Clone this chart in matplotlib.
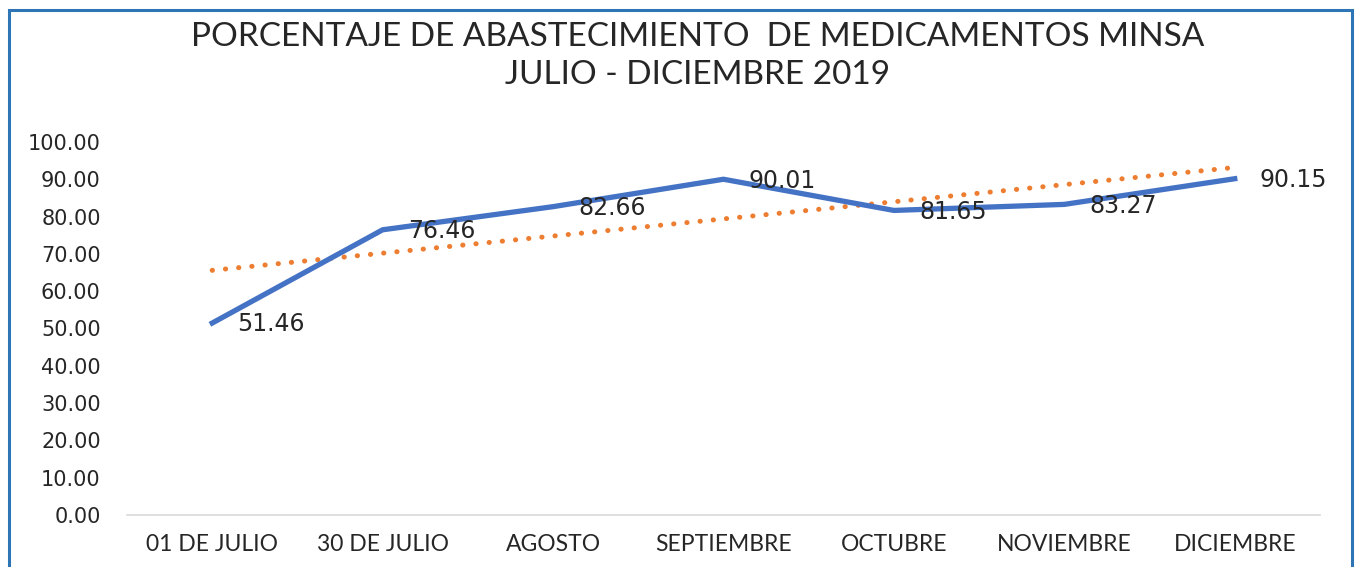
import numpy as np
import matplotlib.pyplot as plt
from matplotlib.patches import Rectangle

meses = ['01 DE JULIO', '30 DE JULIO', 'AGOSTO', 'SEPTIEMBRE', 'OCTUBRE', 'NOVIEMBRE', 'DICIEMBRE']
porcentaje = [51.46, 76.46, 82.66, 90.01, 81.65, 83.27, 90.15]
ticks_y = [0, 10, 20, 30, 40, 50, 60, 70, 80, 90, 100]

plt.rcParams['font.family'] = ['Lato', 'DejaVu Sans']

fig = plt.figure(figsize=(13.57, 5.67), dpi=100)
ax = fig.add_axes([0.0936, 0.0917, 0.8791, 0.6579])

x = np.arange(len(meses))
ax.plot(x, porcentaje, color='#4472C4', lw=3.8, solid_joinstyle='round', zorder=3, clip_on=False)

# linea de tendencia lineal
m, b = np.polyfit(x, porcentaje, 1)
ax.plot(x, m * x + b, color='#ED7D31', lw=3.6, linestyle=(0, (0.05, 2.6)),
        dash_capstyle='round', zorder=2, clip_on=False)

for xi, yi in zip(x, porcentaje):
    ax.annotate(f'{yi:.2f}', (xi, yi), xytext=(18, -1), textcoords='offset points',
                ha='left', va='center', fontsize=17, color='#262626', zorder=4,
                family='DejaVu Sans')

ax.set_xlim(-0.5, len(meses) - 0.5)
ax.set_ylim(0, 100)
ax.set_yticks(ticks_y)
ax.set_yticklabels([f'{t:.2f}' for t in ticks_y], fontsize=15, color='#262626',
                   family='DejaVu Sans')
ax.set_xticks(x)
ax.set_xticklabels(meses, fontsize=16.5, color='#262626')
ax.tick_params(axis='both', length=0)
ax.tick_params(axis='y', pad=19)
ax.tick_params(axis='x', pad=14)
for s in ['top', 'right', 'left']:
    ax.spines[s].set_visible(False)
ax.spines['bottom'].set_color('#D9D9D9')
ax.spines['bottom'].set_linewidth(1.2)

fig.text(0.514, 0.935, 'PORCENTAJE DE ABASTECIMIENTO  DE MEDICAMENTOS MINSA',
         ha='center', va='center', fontsize=24, color='#262626')
fig.text(0.514, 0.868, 'JULIO - DICIEMBRE 2019',
         ha='center', va='center', fontsize=24, color='#262626')

# borde azul del grafico
fig.patches.append(Rectangle((0.0066, -0.05), 0.9897, 1.032, transform=fig.transFigure,
                             fill=False, edgecolor='#2E75B6', lw=2.2))

fig.savefig('out.png', dpi=100)
